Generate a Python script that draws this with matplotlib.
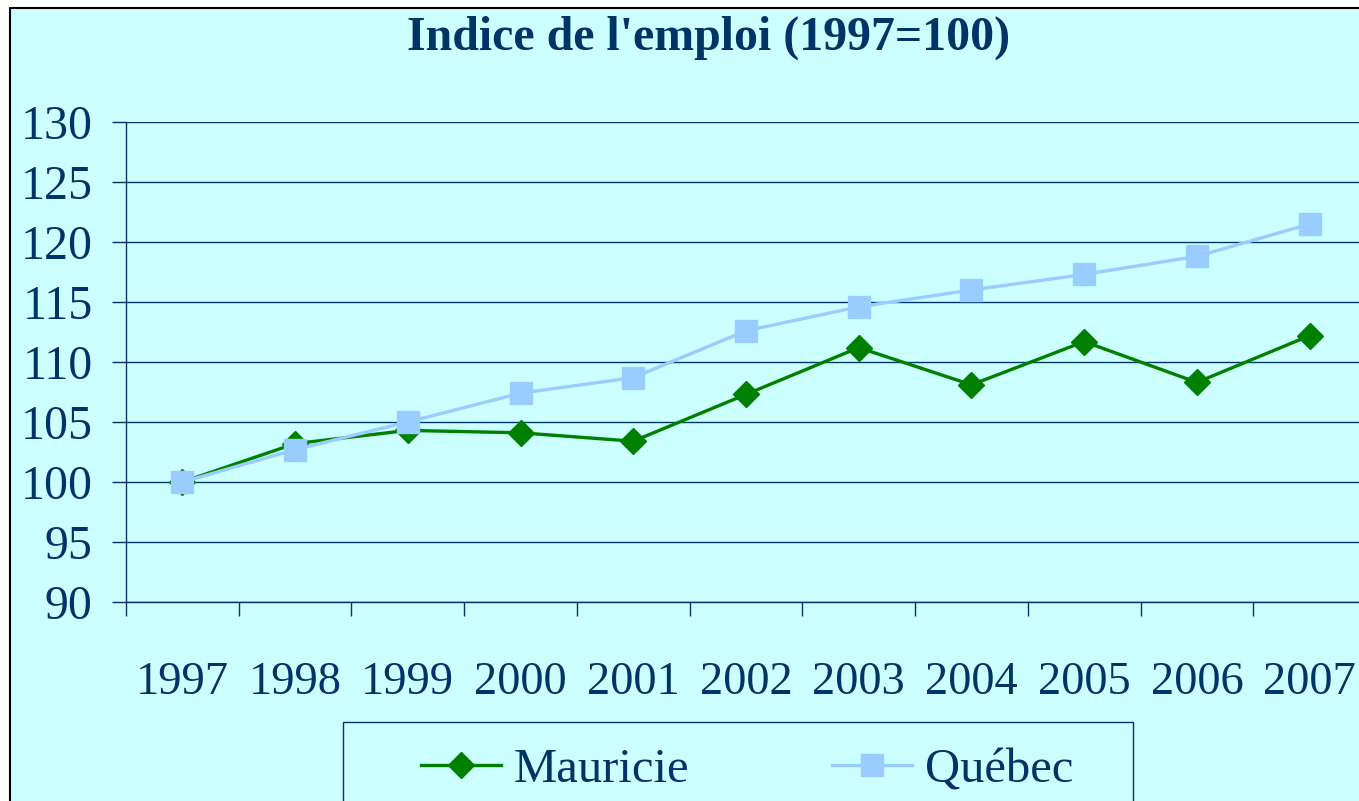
import matplotlib
matplotlib.use('Agg')
import matplotlib.pyplot as plt
from matplotlib.patches import Rectangle

years = ['1997', '1998', '1999', '2000', '2001', '2002', '2003', '2004', '2005', '2006', '2007']
mauricie = [100.0, 103.2, 104.3, 104.1, 103.4, 107.3, 111.2, 108.1, 111.7, 108.3, 112.2]
quebec = [100.0, 102.7, 105.0, 107.4, 108.7, 112.6, 114.6, 116.0, 117.3, 118.8, 121.5]
yticks = [90, 95, 100, 105, 110, 115, 120, 125, 130]

navy = '#003366'
cyan = '#CCFFFF'
W, H = 1359, 801

plt.rcParams['font.family'] = ['Liberation Serif', 'DejaVu Serif']

fig = plt.figure(figsize=(W / 100, H / 100), dpi=100)
fig.patch.set_facecolor('white')
# chart area with black frame (cut by the image at right and bottom)
fig.patches.append(Rectangle((10 / W, -0.1), 1.2, 1 - 8 / H + 0.1, transform=fig.transFigure,
                             facecolor=cyan, edgecolor='black', linewidth=1.5, zorder=-10))

x0, x1 = 126, 1366
ax = fig.add_axes([x0 / W, 1 - 602 / H, (x1 - x0) / W, (602 - 122) / H])
ax.set_facecolor('none')
x = list(range(len(years)))
l_m, = ax.plot(x, mauricie, color='#008000', linewidth=2.4, marker='D', markersize=13.5,
               label='Mauricie', zorder=3)
l_q, = ax.plot(x, quebec, color='#99CCFF', linewidth=2.4, marker='s', markersize=16.5,
               label='Québec', zorder=4)

ax.set_xlim(-0.5, len(years) - 0.5)
ax.set_ylim(90, 130)
ax.set_yticks(yticks)
ax.set_yticklabels([str(v) for v in yticks])
ax.set_xticks([i - 0.5 for i in range(len(years))])
ax.set_xticklabels([])
ax.set_xticks(x, minor=True)
ax.set_xticklabels(years, minor=True)
ax.tick_params(axis='x', which='minor', length=0, pad=43, labelsize=33.5, labelcolor=navy)
ax.tick_params(axis='x', which='major', length=10, color=navy, width=1)
ax.tick_params(axis='y', length=10, color=navy, width=1, pad=14, labelsize=34.5, labelcolor=navy)
ax.grid(axis='y', color=navy, linewidth=1)
for s in ['top', 'right']:
    ax.spines[s].set_visible(False)
for s in ['left', 'bottom']:
    ax.spines[s].set_color(navy)
    ax.spines[s].set_linewidth(1)

fig.text(709 / W, 1 - 38 / H, "Indice de l'emploi (1997=100)", ha='center', va='center',
         fontsize=34.5, fontweight='bold', color=navy)

# legend
leg = fig.legend([l_m, l_q], ['Mauricie', 'Québec'], loc='center left',
                 bbox_to_anchor=(421 / W, 1 - 770 / H),
                 ncol=2, frameon=False, fontsize=35, handlelength=1.65, handletextpad=0.25,
                 columnspacing=2.95, borderpad=0, borderaxespad=0)
for t in leg.get_texts():
    t.set_color(navy)
fig.patches.append(Rectangle((343 / W, -0.05), (1133 - 343) / W, 1 - 722 / H + 0.05,
                             transform=fig.transFigure, facecolor='none', edgecolor=navy, linewidth=1))

fig.savefig('out.png', dpi=100)
